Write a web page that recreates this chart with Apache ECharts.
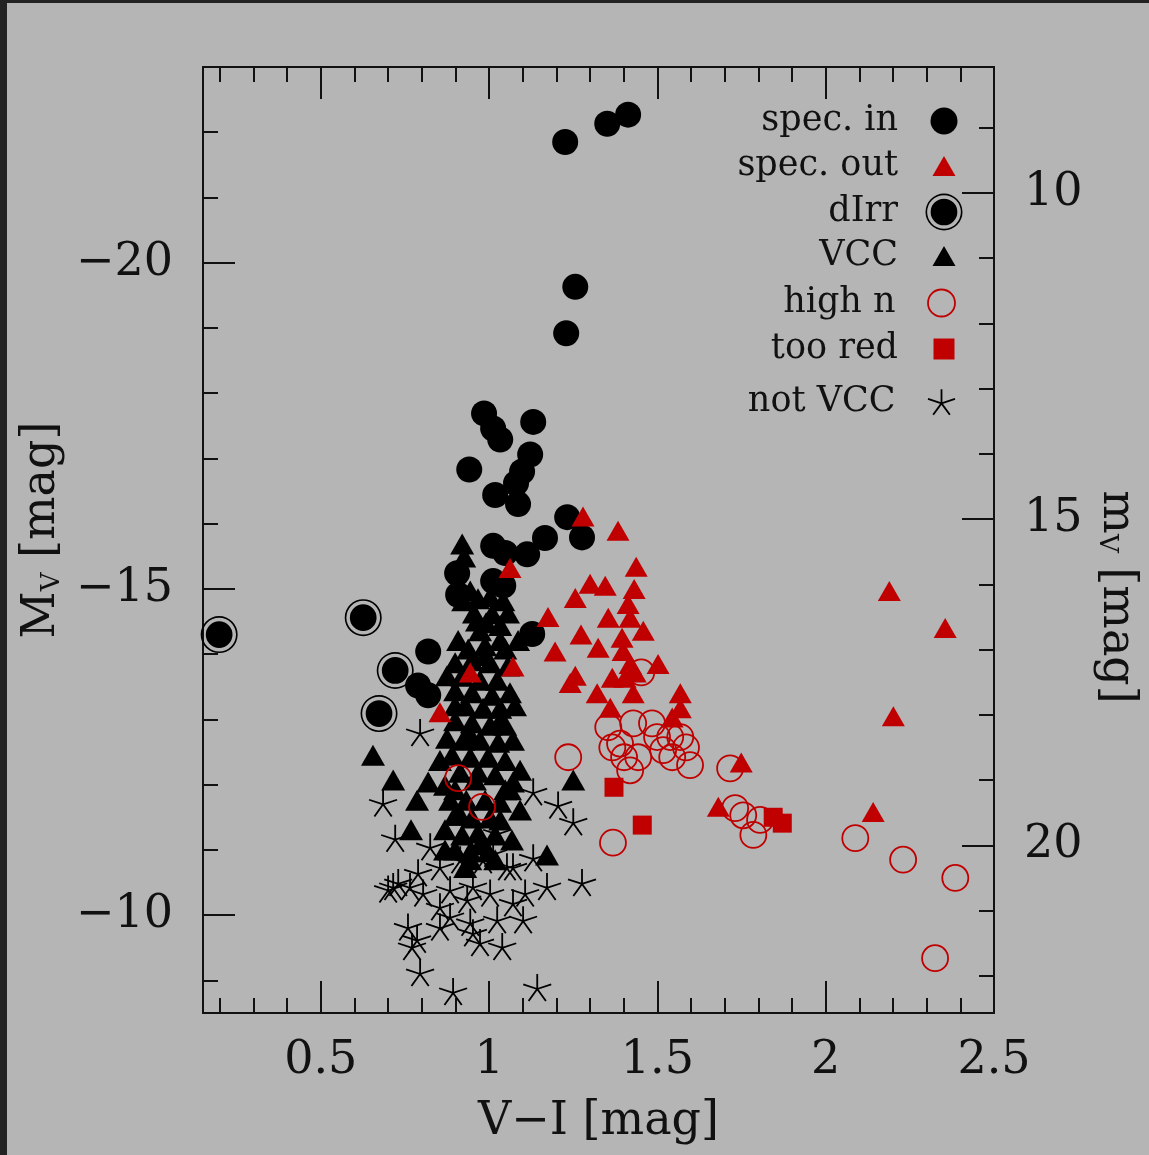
<!DOCTYPE html>
<html>
<head>
<meta charset="utf-8">
<script src="https://cdn.jsdelivr.net/npm/echarts@6/dist/echarts.min.js"></script>
<style>
html, body { margin: 0; padding: 0; background: #b5b5b5; }
#chart { width: 1149px; height: 1155px; }
</style>
</head>
<body>
<div id="chart"></div>
<script>
// Colour-magnitude diagram: V-I colour against absolute V magnitude,
// with the apparent magnitude scale on the right-hand axis.

// [V-I, M_V] pairs per sample class
const specIn = [
  [1.226,-21.85],[1.351,-22.13],[1.413,-22.27],[1.256,-19.63],[1.229,-18.92],
  [0.985,-17.69],[1.012,-17.46],[1.033,-17.29],[1.131,-17.56],[1.122,-17.06],
  [1.098,-16.80],[0.941,-16.83],[1.080,-16.62],[1.018,-16.44],[1.086,-16.30],
  [1.232,-16.10],[1.276,-15.79],[1.166,-15.78],[1.113,-15.53],[1.012,-15.66],
  [1.048,-15.55],[0.905,-15.24],[0.908,-14.91],[1.012,-15.12],[1.042,-15.05],
  [1.128,-14.31],[0.819,-14.04],[0.789,-13.52],[0.819,-13.37]
];
const specOut = [
  [1.279,-16.11],[1.383,-15.89],[1.437,-15.34],[1.300,-15.08],[1.345,-15.05],
  [1.256,-14.86],[1.431,-15.00],[1.413,-14.77],[1.175,-14.57],[1.354,-14.56],
  [1.419,-14.56],[1.273,-14.30],[1.458,-14.36],[1.395,-14.25],[1.196,-14.04],
  [1.324,-14.10],[1.398,-14.05],[1.502,-13.85],[1.419,-13.85],[1.256,-13.67],
  [1.241,-13.56],[1.366,-13.64],[1.404,-13.64],[1.434,-13.72],[1.321,-13.40],
  [1.428,-13.40],[1.568,-13.40],[1.360,-13.18],[1.568,-13.17],[1.544,-13.03],
  [1.062,-15.32],[0.944,-13.72],[0.854,-13.11],[1.071,-13.81],[1.749,-12.34],
  [1.681,-11.66],[2.189,-14.97],[2.355,-14.40],[2.201,-13.05],[2.141,-11.58]
];
const dIrr = [
  [0.198,-14.30],[0.626,-14.56],[0.721,-13.75],[0.673,-13.09]
];
const vcc = [
  [0.920,-15.69],[0.926,-15.49],[0.944,-14.97],[0.967,-14.85],[1.003,-14.88],
  [1.042,-14.82],[0.955,-14.63],[1.009,-14.62],[1.056,-14.63],[0.991,-14.48],
  [1.033,-14.44],[0.964,-14.51],[0.938,-14.08],[0.988,-14.13],[1.048,-14.08],
  [0.899,-13.87],[0.949,-13.90],[1.003,-13.87],[1.056,-13.82],[0.920,-13.66],
  [0.973,-13.60],[1.024,-13.60],[0.899,-13.44],[0.949,-13.41],[1.009,-13.37],
  [1.062,-13.41],[0.929,-13.21],[0.982,-13.17],[1.033,-13.17],[0.899,-12.98],
  [0.949,-12.95],[1.003,-12.91],[1.048,-12.91],[0.875,-12.71],[0.923,-12.68],
  [0.973,-12.68],[1.027,-12.65],[1.071,-12.68],[0.890,-12.45],[0.944,-12.42],
  [0.997,-12.42],[1.048,-12.37],[1.092,-12.22],[0.914,-12.19],[0.967,-12.19],
  [1.018,-12.15],[0.869,-11.99],[0.655,-12.45],[0.715,-12.07],[0.819,-12.04],
  [0.786,-11.76],[0.768,-11.31],[1.172,-10.92],[1.250,-12.07],[1.071,-12.04],
  [0.875,-13.67],[0.884,-11.76],[0.932,-11.76],[0.988,-11.76],[1.033,-11.73],
  [0.899,-11.53],[0.949,-11.49],[1.003,-11.49],[0.869,-11.31],[0.920,-11.23],
  [0.967,-11.26],[1.018,-11.23],[0.899,-11.00],[0.944,-10.97],[0.997,-10.97],
  [0.929,-10.73],[0.973,-14.36],[1.033,-14.21],[1.086,-14.21],[0.923,-14.82],
  [0.908,-14.21],[0.854,-12.37],[0.899,-11.92],[1.062,-11.92],[1.092,-11.61],
  [0.869,-11.00],[1.068,-11.15],[0.988,-13.98],[1.033,-12.98],[0.944,-12.76],
  [0.899,-13.21],[1.077,-13.21],[0.958,-12.07],[1.048,-11.92],[0.914,-11.53],
  [1.033,-11.46],[0.973,-11.08],[1.018,-10.85],[0.944,-10.85]
];
const highN = [
  [0.908,-12.10],[0.979,-11.66],[1.235,-12.42],[1.354,-12.88],[1.366,-12.57],
  [1.401,-12.42],[1.419,-12.22],[1.389,-12.63],[1.428,-12.94],[1.443,-12.42],
  [1.484,-12.94],[1.499,-12.73],[1.538,-12.73],[1.568,-12.73],[1.517,-12.53],
  [1.544,-12.42],[1.597,-12.30],[1.585,-12.57],[1.452,-13.72],[1.368,-11.11],
  [1.716,-12.25],[1.731,-11.64],[1.755,-11.53],[1.805,-11.46],[1.785,-11.23],
  [2.088,-11.18],[2.230,-10.85],[2.385,-10.57],[2.325,-9.34]
];
const tooRed = [
  [1.371,-11.96],[1.455,-11.38],[1.844,-11.50],[1.871,-11.41]
];
const notVcc = [
  [0.795,-12.80],[0.685,-11.72],[0.721,-11.18],[1.131,-11.89],[1.205,-11.69],
  [1.250,-11.43],[1.131,-10.88],[1.172,-10.44],[1.276,-10.50],[0.715,-10.44],
  [0.789,-10.65],[0.825,-11.05],[1.024,-11.26],[0.795,-9.12],[0.893,-8.83],
  [1.143,-8.89],[0.759,-9.82],[0.786,-9.63],[0.771,-9.52],[0.854,-9.82],
  [0.952,-9.73],[0.973,-9.58],[1.039,-9.52],[1.101,-9.93],[1.071,-10.19],
  [1.107,-10.34],[0.884,-10.39],[0.935,-10.24],[1.003,-10.34],[0.854,-10.13],
  [0.854,-10.74],[0.914,-10.85],[0.982,-10.85],[1.053,-10.74],[0.952,-10.44],
  [0.804,-10.34],[0.765,-10.44],[1.024,-9.93],[0.944,-9.89],[0.884,-9.98],
  [1.012,-10.95],[0.973,-11.05],[1.071,-10.74],[0.700,-10.40],[0.730,-10.50]
];

// Axis ranges and ticks
const xRange = [0.15, 2.5];
const mvRange = [-23, -8.5];          // absolute magnitude, brighter at the top
const distMod = 31.07;                // m_V = M_V + distance modulus
const xMajor = [0.5, 1, 1.5, 2, 2.5];
const xMinor = [0.2, 0.3, 0.4, 0.6, 0.7, 0.8, 0.9, 1.1, 1.2, 1.3, 1.4, 1.6, 1.7, 1.8, 1.9, 2.1, 2.2, 2.3, 2.4];
const mvMajor = [-20, -15, -10];
const mvMinor = [-22, -21, -19, -18, -17, -16, -14, -13, -12, -11, -9];
const mMajor = [10, 15, 20];
const mMinor = [9, 11, 12, 13, 14, 16, 17, 18, 19, 21, 22];

const FONT = 'DejaVu Serif';
const INK = '#111';
const RED = '#c00000';
const MAJOR_LEN = 32, MINOR_LEN = 15;

// ring around a filled disc (dwarf irregulars)
const ringDisc = 'path://M0,-18A18,18 0 1,1 0,18A18,18 0 1,1 0,-18Z' +
  'M0,-16.4A16.4,16.4 0 1,0 0,16.4A16.4,16.4 0 1,0 0,-16.4Z' +
  'M0,-13A13,13 0 1,1 0,13A13,13 0 1,1 0,-13Z';
// five-armed asterisk
const asterisk = 'path://M0,0L0,-10M0,0L9.51,-3.09M0,0L5.88,8.09M0,0L-5.88,8.09M0,0L-9.51,-3.09';

const minusFmt = v => String(v).replace('-', '\u2212');

function axisBase(extra) {
  return Object.assign({
    type: 'value',
    splitLine: { show: false },
    axisLine: { show: false },
    axisLabel: { show: false },
    axisTick: { show: false }
  }, extra);
}
const lineStyle = { color: INK, width: 2 };
const labelStyle = { fontFamily: FONT, fontSize: 46, color: INK };
const titleRich = {
  a: { fontFamily: FONT, fontSize: 46, color: INK, lineHeight: 50, verticalAlign: 'top' },
  b: { fontFamily: FONT, fontSize: 26, color: INK, lineHeight: 50, verticalAlign: 'top', padding: [20, 0, 0, 0] }
};

const xAxes = [
  axisBase({ position: 'bottom', min: xRange[0], max: xRange[1],
    axisLine: { show: true, onZero: false, lineStyle },
    axisTick: { show: true, inside: true, length: MAJOR_LEN, customValues: xMajor, lineStyle },
    axisLabel: Object.assign({ show: true, margin: 25, customValues: xMajor }, labelStyle),
    name: 'V\u2212I [mag]', nameLocation: 'middle', nameGap: 86,
    nameTextStyle: { fontFamily: FONT, fontSize: 46, color: INK } }),
  axisBase({ position: 'bottom', min: xRange[0], max: xRange[1],
    axisTick: { show: true, inside: true, length: MINOR_LEN, customValues: xMinor, lineStyle } }),
  axisBase({ position: 'top', min: xRange[0], max: xRange[1],
    axisLine: { show: true, onZero: false, lineStyle },
    axisTick: { show: true, inside: true, length: MAJOR_LEN, customValues: xMajor, lineStyle } }),
  axisBase({ position: 'top', min: xRange[0], max: xRange[1],
    axisTick: { show: true, inside: true, length: MINOR_LEN, customValues: xMinor, lineStyle } })
];

const yAxes = [
  axisBase({ position: 'left', min: mvRange[0], max: mvRange[1], inverse: true,
    axisLine: { show: true, onZero: false, lineStyle },
    axisTick: { show: true, inside: true, length: MAJOR_LEN, customValues: mvMajor, lineStyle },
    axisLabel: Object.assign({ show: true, margin: 30, customValues: mvMajor, formatter: minusFmt }, labelStyle),
    name: '{a|M}{b|V}{a| [mag]}', nameLocation: 'middle', nameGap: 132,
    nameTextStyle: { rich: titleRich, padding: [0, 0, 0, 20] } }),
  axisBase({ position: 'left', min: mvRange[0], max: mvRange[1], inverse: true,
    axisTick: { show: true, inside: true, length: MINOR_LEN, customValues: mvMinor, lineStyle } }),
  axisBase({ position: 'right', min: mvRange[0] + distMod, max: mvRange[1] + distMod, inverse: true,
    axisLine: { show: true, onZero: false, lineStyle },
    axisTick: { show: true, inside: true, length: MAJOR_LEN, customValues: mMajor, lineStyle },
    axisLabel: Object.assign({ show: true, margin: 30, customValues: mMajor }, labelStyle),
    name: '{a|m}{b|V}{a| [mag]}', nameLocation: 'middle', nameGap: 90, nameRotate: -90,
    nameTextStyle: { rich: titleRich, padding: [0, 0, 0, 114] } }),
  axisBase({ position: 'right', min: mvRange[0] + distMod, max: mvRange[1] + distMod, inverse: true,
    axisTick: { show: true, inside: true, length: MINOR_LEN, customValues: mMinor, lineStyle } })
];

// legend rows: icon centre line and icon box
const legendRows = [
  { name: 'spec. in',  yc: 121, w: 27, h: 27 },
  { name: 'spec. out', yc: 166, w: 23, h: 20 },
  { name: 'dIrr',      yc: 212, w: 37, h: 37 },
  { name: 'VCC',       yc: 256, w: 23, h: 20 },
  { name: 'high n',    yc: 303, w: 27, h: 27, itemStyle: { borderWidth: 1.8 } },
  { name: 'too red',   yc: 349, w: 21, h: 21 },
  { name: 'not VCC',   yc: 402, w: 27, h: 26, itemStyle: { borderWidth: 1.8 } }
];
const iconCenterX = 944;
const textRightX = 898;
const legends = legendRows.map(r => ({
  data: [r.name],
  orient: 'vertical', align: 'right', selectedMode: false,
  right: 1149 - (iconCenterX + r.w / 2), top: r.yc - 20,
  padding: 0, itemGap: 0, itemWidth: r.w, itemHeight: r.h,
  itemStyle: r.itemStyle || {},
  textStyle: { fontFamily: FONT, fontSize: 35, color: INK, lineHeight: 40,
    padding: [0, (iconCenterX - r.w / 2 - 5) - textRightX, 0, 0] }
}));

function scatter(name, data, symbol, size, itemStyle) {
  return { type: 'scatter', name, data, symbol, symbolSize: size,
    itemStyle: Object.assign({ opacity: 1 }, itemStyle),
    xAxisIndex: 0, yAxisIndex: 0, emphasis: { disabled: true }, clip: true };
}

const option = {
  backgroundColor: '#b5b5b5',
  animation: false,
  grid: { left: 203, right: 155, top: 67, bottom: 142, containLabel: false },
  xAxis: xAxes,
  yAxis: yAxes,
  legend: legends,
  graphic: [
    { type: 'rect', left: 0, top: 0, shape: { width: 7, height: 1155 }, style: { fill: '#232323' }, z: 100 },
    { type: 'rect', left: 0, top: 0, shape: { width: 1149, height: 3 }, style: { fill: '#232323' }, z: 100 }
  ],
  series: [
    scatter('spec. in', specIn, 'circle', 26, { color: '#000' }),
    scatter('dIrr', dIrr, ringDisc, 37, { color: '#000' }),
    scatter('VCC', vcc, 'triangle', [24, 21], { color: '#000' }),
    scatter('spec. out', specOut, 'triangle', [23, 20], { color: RED }),
    scatter('high n', highN, 'circle', 26, { color: 'none', borderColor: RED, borderWidth: 1.8 }),
    scatter('too red', tooRed, 'rect', 19, { color: RED }),
    scatter('not VCC', notVcc, asterisk, [28, 27], { color: 'none', borderColor: '#000', borderWidth: 1.8 })
  ]
};

const chart = echarts.init(document.getElementById('chart'), null, { renderer: 'canvas' });
chart.setOption(option);
</script>
</body>
</html>
